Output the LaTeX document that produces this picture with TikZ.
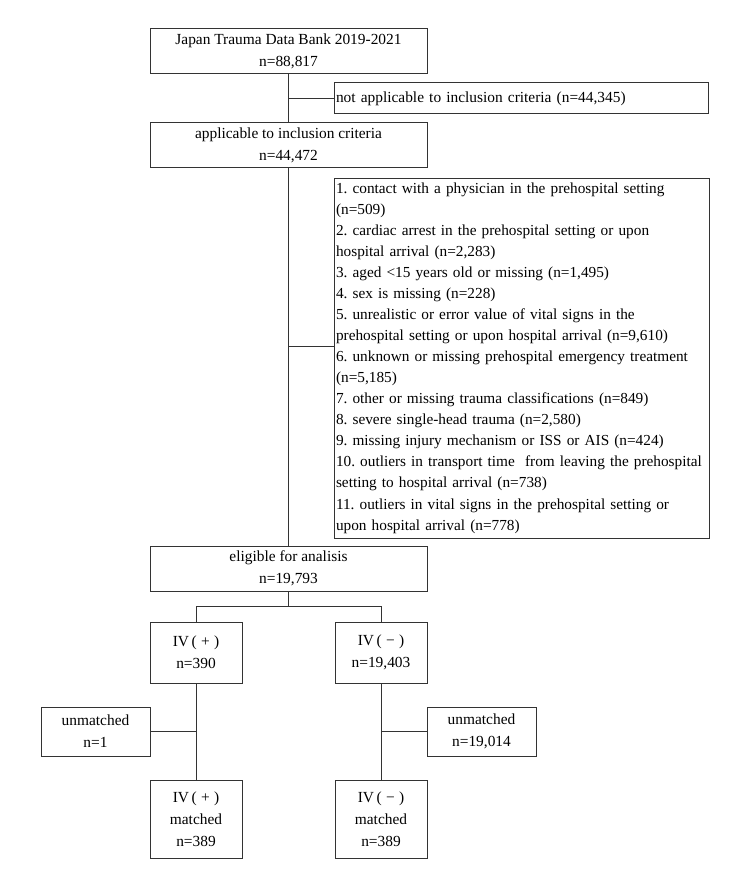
\documentclass[tikz,border=0pt]{standalone}
\usepackage{fontspec}
\setmainfont{Liberation Serif}
\frenchspacing
\hyphenpenalty=10000
\exhyphenpenalty=10000
\begin{document}
\begin{tikzpicture}[x=1pt,y=-1pt,
  box/.style={draw=black!80, line width=1pt, inner sep=0pt, align=center,
    font=\fontsize{15.4}{22}\selectfont},
  conn/.style={draw=black!80, line width=1pt}]
\useasboundingbox (0,0) rectangle (750,888);
\fill[white] (0,0) rectangle (750,888);
% boxes
\node[box, minimum width=277pt, minimum height=45pt] (jtdb) at (288.5,51.5)
  {Japan Trauma Data Bank 2019-2021\\n=88,817};
\node[box, minimum width=374pt, minimum height=31pt, text width=370pt, align=left] (na) at (521,98.5)
  {not applicable to inclusion criteria (n=44,345)};
\node[box, minimum width=277pt, minimum height=44pt] (app) at (288.5,145)
  {applicable to inclusion criteria\\n=44,472};
\node[box, minimum width=375pt, minimum height=360pt, text width=371pt, align=left,
  font=\fontsize{15.3}{21.05}\selectfont] (excl) at (521.5,358)
  {1. contact with a physician in the prehospital setting\\
   (n=509)\\
   2. cardiac arrest in the prehospital setting or upon\\
   hospital arrival (n=2,283)\\
   3. aged <15 years old or missing (n=1,495)\\
   4. sex is missing (n=228)\\
   5. unrealistic or error value of vital signs in the\\
   prehospital setting or upon hospital arrival (n=9,610)\\
   6. unknown or missing prehospital emergency treatment\\
   (n=5,185)\\
   7. other or missing trauma classifications (n=849)\\
   8. severe single-head trauma (n=2,580)\\
   9. missing injury mechanism or ISS or AIS (n=424)\\
   10. outliers in transport time\ \ from leaving the prehospital\\
   setting to hospital arrival (n=738)\\
   11. outliers in vital signs in the prehospital setting or\\
   upon hospital arrival (n=778)};
\node[box, minimum width=277pt, minimum height=45pt] (elig) at (288.5,568.5)
  {eligible for analisis\\n=19,793};
\node[box, minimum width=92pt, minimum height=61pt] (ivp) at (196,652.5)
  {IV\,(\;+\;)\\n=390};
\node[box, minimum width=92pt, minimum height=61pt] (ivm) at (381,652.5)
  {IV\,(\;−\;)\\n=19,403};
\node[box, minimum width=109pt, minimum height=49pt] (unl) at (95.5,731.5)
  {unmatched\\n=1};
\node[box, minimum width=109pt, minimum height=49pt] (unr) at (481.5,731.5)
  {unmatched\\n=19,014};
\node[box, minimum width=92pt, minimum height=78pt] (mp) at (196,819)
  {IV\,(\;+\;)\\matched\\n=389};
\node[box, minimum width=92pt, minimum height=78pt] (mm) at (381,819)
  {IV\,(\;−\;)\\matched\\n=389};
% connectors
\draw[conn] (jtdb.south) -- (app.north);
\draw[conn] (jtdb.south |- na.west) -- (na.west);
\draw[conn] (app.south) -- (elig.north);
\coordinate (b2) at (288.5,346);
\draw[conn] (b2) -- (b2 -| excl.west);
\coordinate (split) at (288.5,606);
\draw[conn] (elig.south) -- (split);
\draw[conn] (split) -| (ivp.north);
\draw[conn] (split) -| (ivm.north);
\draw[conn] (ivp.south) -- (mp.north);
\draw[conn] (ivm.south) -- (mm.north);
\draw[conn] (ivp.south |- unl.east) -- (unl.east);
\draw[conn] (ivm.south |- unr.west) -- (unr.west);
\end{tikzpicture}
\end{document}
